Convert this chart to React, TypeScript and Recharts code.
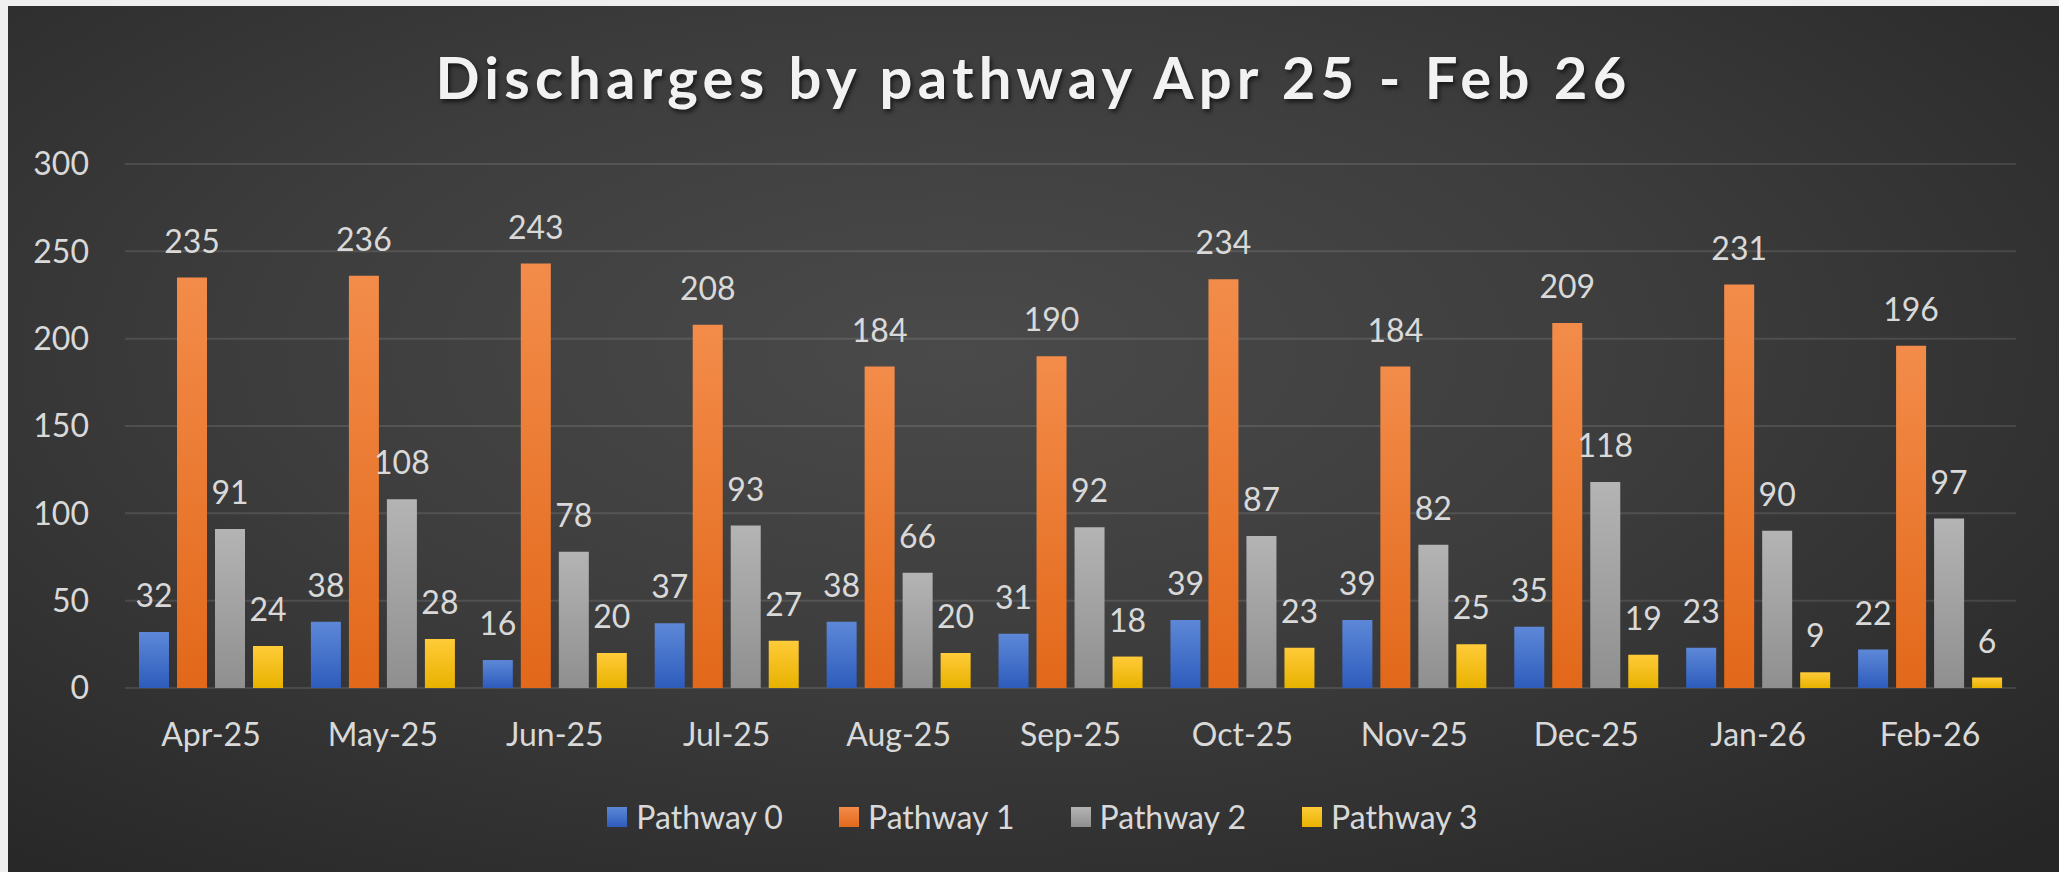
import React from 'react';
import { BarChart, Bar, XAxis, YAxis, CartesianGrid, Legend, LabelList } from 'recharts';

const months = ['Apr-25', 'May-25', 'Jun-25', 'Jul-25', 'Aug-25', 'Sep-25', 'Oct-25', 'Nov-25', 'Dec-25', 'Jan-26', 'Feb-26'];
const pathway0 = [32, 38, 16, 37, 38, 31, 39, 39, 35, 23, 22];
const pathway1 = [235, 236, 243, 208, 184, 190, 234, 184, 209, 231, 196];
const pathway2 = [91, 108, 78, 93, 66, 92, 87, 82, 118, 90, 97];
const pathway3 = [24, 28, 20, 27, 20, 18, 23, 25, 19, 9, 6];
const yTicks = [0, 50, 100, 150, 200, 250, 300];

const series = [
  { key: 'p0', name: 'Pathway 0', top: '#5d88d8', bottom: '#2e5cbc' },
  { key: 'p1', name: 'Pathway 1', top: '#f38c4a', bottom: '#e2681a' },
  { key: 'p2', name: 'Pathway 2', top: '#b4b4b4', bottom: '#8f8f8f' },
  { key: 'p3', name: 'Pathway 3', top: '#ffcb38', bottom: '#e8b200' },
];

const data = months.map((month, i) => ({
  month,
  p0: pathway0[i],
  p1: pathway1[i],
  p2: pathway2[i],
  p3: pathway3[i],
}));

// band edges, used only for the small tick marks between months
const edges = months.map((_, i) => i).concat(months.length);

const FONT = 'Lato, "Open Sans", sans-serif';
const TEXT = '#d9d9d9';

function LegendContent() {
  return (
    <div style={{ display: 'flex', justifyContent: 'center', gap: 56, paddingLeft: 18, fontFamily: FONT, fontSize: 32, color: TEXT, lineHeight: '38px' }}>
      {series.map((s) => (
        <div key={s.key} style={{ display: 'flex', alignItems: 'center' }}>
          <span style={{ display: 'inline-block', width: 20, height: 20, background: `linear-gradient(${s.top}, ${s.bottom})`, marginRight: 9 }} />
          <span>{s.name}</span>
        </div>
      ))}
    </div>
  );
}

export default function App() {
  return (
    <div style={{ position: 'fixed', left: 0, top: 0, width: 2059, height: 872, background: '#efefef', overflow: 'hidden' }}>
      <div
        style={{
          position: 'absolute',
          left: 8,
          top: 6,
          width: 2051,
          height: 866,
          background: 'radial-gradient(ellipse 75% 80% at 46% 40%, #4a4a4a 0%, #3d3d3d 45%, #262626 100%)',
        }}
      >
        <div
          style={{
            position: 'absolute',
            top: 42,
            left: 0,
            width: 2051,
            textAlign: 'center',
            fontFamily: FONT,
            fontWeight: 700,
            fontSize: 58,
            lineHeight: 1,
            letterSpacing: 5.2,
            color: '#f2f2f2',
            textShadow: '2px 3px 4px rgba(0,0,0,0.6)',
          }}
        >
          Discharges by pathway Apr 25 - Feb 26
        </div>
        <BarChart
          width={2051}
          height={866}
          data={data}
          margin={{ top: 158, right: 43, left: 37, bottom: 86 }}
          barCategoryGap={14}
          barGap={8}
        >
          <defs>
            {series.map((s) => (
              <linearGradient key={s.key} id={`grad-${s.key}`} x1="0" y1="0" x2="0" y2="1">
                <stop offset="0%" stopColor={s.top} />
                <stop offset="100%" stopColor={s.bottom} />
              </linearGradient>
            ))}
          </defs>
          <CartesianGrid vertical={false} stroke="rgba(255,255,255,0.11)" strokeWidth={2} />
          <XAxis
            xAxisId="edges"
            type="number"
            domain={[0, months.length]}
            ticks={edges}
            allowDataOverflow
            tick={false}
            height={0}
            tickSize={11}
            axisLine={{ stroke: '#9b9b9b', strokeWidth: 2 }}
            tickLine={{ stroke: '#9b9b9b', strokeWidth: 2 }}
          />
          <XAxis
            dataKey="month"
            interval={0}
            height={60}
            axisLine={false}
            tickLine={false}
            tickSize={0}
            tickMargin={35}
            tick={{ fill: TEXT, fontSize: 32, fontFamily: FONT }}
          />
          <YAxis
            domain={[0, 300]}
            ticks={yTicks}
            interval={0}
            width={80}
            axisLine={false}
            tickLine={false}
            tickSize={0}
            tickMargin={36}
            tick={{ fill: TEXT, fontSize: 32, fontFamily: FONT }}
          />
          <Legend verticalAlign="bottom" content={<LegendContent />} wrapperStyle={{ left: 0, width: 2051, bottom: 36 }} />
          {series.map((s) => (
            <Bar key={s.key} dataKey={s.key} name={s.name} fill={`url(#grad-${s.key})`} isAnimationActive={false}>
              <LabelList dataKey={s.key} position="top" offset={25} fill={TEXT} fontSize={32} fontFamily={FONT} />
            </Bar>
          ))}
        </BarChart>
      </div>
    </div>
  );
}
